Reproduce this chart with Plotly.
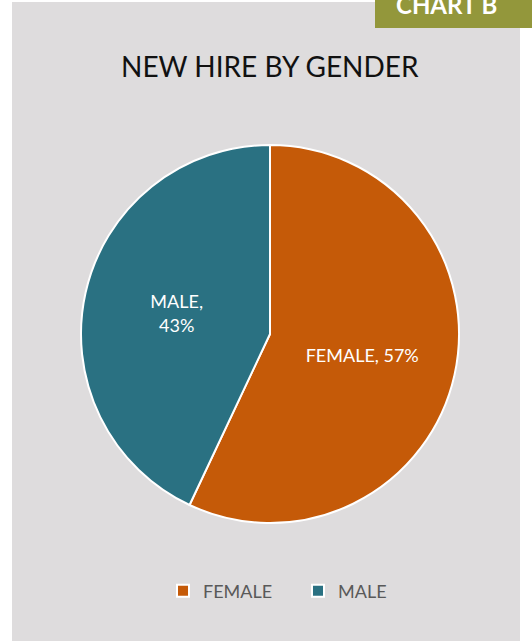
import plotly.graph_objects as go

labels = ["FEMALE", "MALE"]
values = [57, 43]
slice_text = ["FEMALE, 57%", "MALE,<br>43%"]
colors = ["#C55A08", "#2A7182"]

W, H = 532, 642

def px(x):
    return x / W

def py(y):
    return 1 - y / H

fig = go.Figure(go.Pie(
    labels=labels,
    values=values,
    text=slice_text,
    textinfo="text",
    textposition="inside",
    insidetextorientation="horizontal",
    sort=False,
    direction="clockwise",
    rotation=0,
    marker=dict(colors=colors, line=dict(color="#FFFFFF", width=2)),
    textfont=dict(family="Lato", size=18, color="#FFFFFF"),
    domain=dict(x=[px(81), px(459)], y=[py(523), py(145)]),
    hoverinfo="label+percent",
))

fig.update_layout(
    width=W, height=H,
    margin=dict(l=0, r=0, t=0, b=0),
    paper_bgcolor="#FFFFFF",
    plot_bgcolor="#FFFFFF",
    shapes=[
        dict(type="rect", xref="paper", yref="paper",
             x0=px(12), x1=px(520), y0=py(641), y1=py(2),
             fillcolor="#DEDCDD", line=dict(width=0), layer="below"),
        dict(type="rect", xref="paper", yref="paper",
             x0=px(375), x1=px(532), y0=py(28), y1=py(0),
             fillcolor="#93973B", line=dict(width=0), layer="above"),
    ],
    annotations=[
        dict(text="NEW HIRE BY GENDER", xref="paper", yref="paper",
             x=px(270), y=py(66), xanchor="center", yanchor="middle",
             showarrow=False, font=dict(family="Lato", size=28, color="#111111")),
        dict(text="<b>CHART B</b>", xref="paper", yref="paper",
             x=px(446), y=py(4), xanchor="center", yanchor="middle",
             showarrow=False, font=dict(family="Lato", size=24, color="#FFFFFF")),
    ],
    legend=dict(orientation="h", x=px(298), xanchor="center",
                y=py(591), yanchor="middle",
                font=dict(family="Lato", size=18, color="#595959"),
                bgcolor="rgba(0,0,0,0)", itemwidth=30,
                entrywidth=90, entrywidthmode="pixels"),
    showlegend=True,
)

fig.write_html("out.html", config={"displayModeBar": False},
               post_script="document.body.style.margin='0';")
